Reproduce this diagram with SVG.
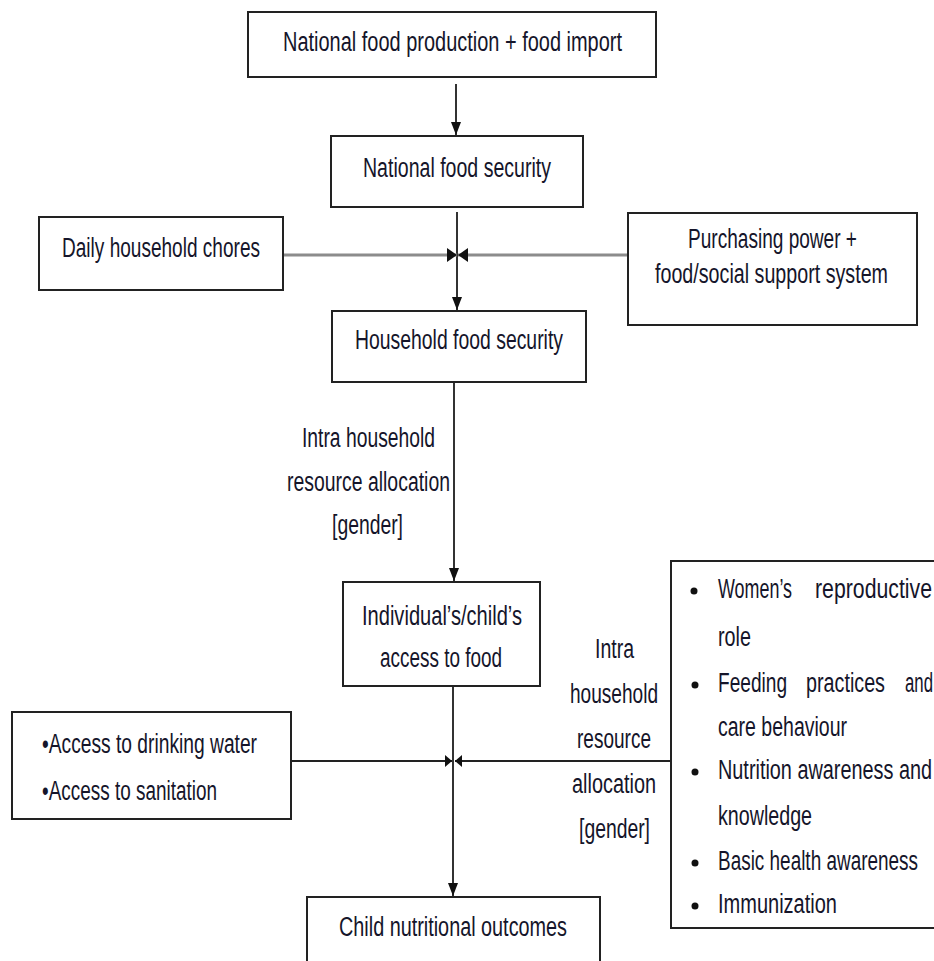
<svg xmlns="http://www.w3.org/2000/svg" width="934" height="961" viewBox="0 0 934 961">
<style>
  .box { fill: #ffffff; stroke: #222222; stroke-width: 2; }
  .t { font-family: "Liberation Sans", Arial, sans-serif; font-size: 27px; fill: #15152a; }
  .c { text-anchor: middle; }
  .e { text-anchor: end; }
  .v { stroke: #333333; stroke-width: 2; fill: none; }
  .hg { stroke: #8c8c8c; stroke-width: 3; fill: none; }
  .hb { stroke: #222222; stroke-width: 2; fill: none; }
  .dot { fill: #111111; }
</style>
<defs>
  <marker id="av" viewBox="0 0 13 10" refX="13" refY="5" markerWidth="13" markerHeight="10" markerUnits="userSpaceOnUse" orient="auto">
    <path d="M0,0 L13,5 L0,10 z" fill="#111111"/>
  </marker>
  <marker id="ah" viewBox="0 0 10 14" refX="10" refY="7" markerWidth="10" markerHeight="14" markerUnits="userSpaceOnUse" orient="auto">
    <path d="M0,0 L10,7 L0,14 z" fill="#111111"/>
  </marker>
  <marker id="as" viewBox="0 0 7 12" refX="7" refY="6" markerWidth="7" markerHeight="12" markerUnits="userSpaceOnUse" orient="auto">
    <path d="M0,0 L7,6 L0,12 z" fill="#111111"/>
  </marker>
</defs>

<rect width="934" height="961" fill="#ffffff"/>

<g id="connectors">
  <line class="v" x1="456" y1="84" x2="456" y2="135" marker-end="url(#av)"/>
  <line class="v" x1="457" y1="212" x2="457" y2="310" marker-end="url(#av)"/>
  <line class="hg" x1="283" y1="255" x2="457" y2="255" marker-end="url(#ah)"/>
  <line class="hg" x1="628" y1="255" x2="458" y2="255" marker-end="url(#ah)"/>
  <line class="v" x1="454" y1="382" x2="454" y2="581" marker-end="url(#av)"/>
  <line class="v" x1="453" y1="686" x2="453" y2="896" marker-end="url(#av)"/>
  <line class="hb" x1="291" y1="761" x2="452" y2="761" marker-end="url(#as)"/>
  <line class="hb" x1="671" y1="761" x2="455" y2="761" marker-end="url(#as)"/>
  <g id="label-intra-1">
    <text class="t c" x="368.5" y="447" textLength="133" lengthAdjust="spacingAndGlyphs">Intra household</text>
    <text class="t c" x="368.5" y="491" textLength="163" lengthAdjust="spacingAndGlyphs">resource allocation</text>
    <text class="t c" x="367.5" y="534" textLength="71" lengthAdjust="spacingAndGlyphs">[gender]</text>
  </g>
  <g id="label-intra-2">
    <text class="t c" x="614.5" y="658" textLength="39" lengthAdjust="spacingAndGlyphs">Intra</text>
    <text class="t c" x="614" y="703" textLength="88" lengthAdjust="spacingAndGlyphs">household</text>
    <text class="t c" x="614" y="748" textLength="74" lengthAdjust="spacingAndGlyphs">resource</text>
    <text class="t c" x="614" y="793" textLength="84" lengthAdjust="spacingAndGlyphs">allocation</text>
    <text class="t c" x="614.5" y="838" textLength="71" lengthAdjust="spacingAndGlyphs">[gender]</text>
  </g>
</g>

<g id="n-national-production">
  <rect class="box" x="248" y="12" width="408" height="65"/>
  <text class="t c" x="452.5" y="51" textLength="339" lengthAdjust="spacingAndGlyphs">National food production + food import</text>
</g>

<g id="n-national-security">
  <rect class="box" x="331" y="136" width="252" height="71"/>
  <text class="t c" x="457" y="177" textLength="188" lengthAdjust="spacingAndGlyphs">National food security</text>
</g>

<g id="n-chores">
  <rect class="box" x="39" y="217" width="244" height="73"/>
  <text class="t c" x="161" y="257" textLength="198" lengthAdjust="spacingAndGlyphs">Daily household chores</text>
</g>

<g id="n-purchasing">
  <rect class="box" x="628" y="213" width="289" height="112"/>
  <text class="t c" x="772.5" y="248" textLength="169" lengthAdjust="spacingAndGlyphs">Purchasing power +</text>
  <text class="t c" x="771.5" y="283" textLength="233" lengthAdjust="spacingAndGlyphs">food/social support system</text>
</g>

<g id="n-household-security">
  <rect class="box" x="332" y="311" width="254" height="71"/>
  <text class="t c" x="459" y="349" textLength="208" lengthAdjust="spacingAndGlyphs">Household food security</text>
</g>

<g id="n-individual">
  <rect class="box" x="343" y="582" width="197" height="104"/>
  <text class="t c" x="442" y="625" textLength="160" lengthAdjust="spacingAndGlyphs">Individual’s/child’s</text>
  <text class="t c" x="441" y="667" textLength="122" lengthAdjust="spacingAndGlyphs">access to food</text>
</g>

<g id="n-water">
  <rect class="box" x="12" y="712" width="279" height="107"/>
  <text class="t" x="42" y="753" textLength="215" lengthAdjust="spacingAndGlyphs">•Access to drinking water</text>
  <text class="t" x="42" y="800" textLength="175" lengthAdjust="spacingAndGlyphs">•Access to sanitation</text>
</g>

<g id="n-care">
  <rect class="box" x="671" y="561" width="275" height="367"/>
  <circle class="dot" cx="694" cy="591" r="3.5"/>
  <text class="t" x="718" y="598" textLength="74" lengthAdjust="spacingAndGlyphs">Women’s</text>
  <text class="t" x="815" y="598" textLength="117" lengthAdjust="spacingAndGlyphs">reproductive</text>
  <text class="t" x="718" y="646" textLength="33" lengthAdjust="spacingAndGlyphs">role</text>
  <circle class="dot" cx="695" cy="685" r="3.5"/>
  <text class="t" x="718" y="692" textLength="69" lengthAdjust="spacingAndGlyphs">Feeding</text>
  <text class="t" x="806" y="692" textLength="79" lengthAdjust="spacingAndGlyphs">practices</text>
  <text class="t" x="905" y="692" textLength="28" lengthAdjust="spacingAndGlyphs">and</text>
  <text class="t" x="718" y="736" textLength="129" lengthAdjust="spacingAndGlyphs">care behaviour</text>
  <circle class="dot" cx="695" cy="772" r="3.5"/>
  <text class="t" x="718" y="779" textLength="214" lengthAdjust="spacingAndGlyphs">Nutrition awareness and</text>
  <text class="t" x="718" y="825" textLength="94" lengthAdjust="spacingAndGlyphs">knowledge</text>
  <circle class="dot" cx="695" cy="863" r="3.5"/>
  <text class="t" x="718" y="870" textLength="200" lengthAdjust="spacingAndGlyphs">Basic health awareness</text>
  <circle class="dot" cx="695" cy="906" r="3.5"/>
  <text class="t" x="718" y="913" textLength="119" lengthAdjust="spacingAndGlyphs">Immunization</text>
</g>

<g id="n-outcomes">
  <rect class="box" x="307" y="897" width="293" height="80"/>
  <text class="t c" x="453" y="936" textLength="228" lengthAdjust="spacingAndGlyphs">Child nutritional outcomes</text>
</g>
</svg>
